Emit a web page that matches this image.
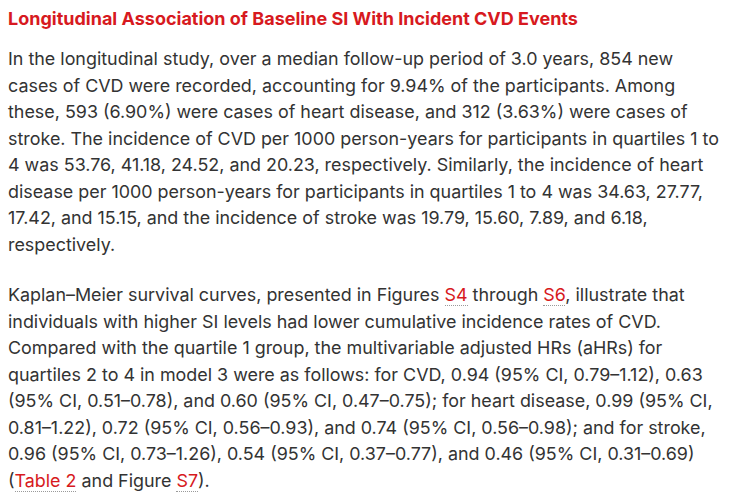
<!DOCTYPE html>
<html>
<head>
<meta charset="utf-8">
<script src="https://cdn.jsdelivr.net/npm/chart.js@4"></script>
<style>
  html, body { margin: 0; padding: 0; background: #ffffff; }
  body { width: 732px; height: 500px; overflow: hidden; font-family: Inter, "Noto Sans", sans-serif; }
  h3 { margin: 0; position: absolute; left: 8px; top: 6px; font-size: 18px; font-weight: 700; color: #d71920; line-height: 26px; white-space: nowrap; }
  .p { position: absolute; left: 8px; font-size: 17.9px; color: #333333; line-height: 26.5px; white-space: nowrap; }
  #p1 { top: 46px; }
  #p2 { top: 282px; }
  a { color: #d71920; text-decoration: none; border-bottom: 1px dotted #9a9a9a; }
</style>
</head>
<body>
<h3>Longitudinal Association of Baseline SI With Incident CVD Events</h3>
<div class="p" id="p1">
In the longitudinal study, over a median follow-up period of 3.0 years, 854 new<br>
cases of CVD were recorded, accounting for 9.94% of the participants. Among<br>
these, 593 (6.90%) were cases of heart disease, and 312 (3.63%) were cases of<br>
stroke. The incidence of CVD per 1000 person-years for participants in quartiles 1 to<br>
4 was 53.76, 41.18, 24.52, and 20.23, respectively. Similarly, the incidence of heart<br>
disease per 1000 person-years for participants in quartiles 1 to 4 was 34.63, 27.77,<br>
17.42, and 15.15, and the incidence of stroke was 19.79, 15.60, 7.89, and 6.18,<br>
respectively.
</div>
<div class="p" id="p2">
Kaplan–Meier survival curves, presented in Figures <a>S4</a> through <a>S6</a>, illustrate that<br>
individuals with higher SI levels had lower cumulative incidence rates of CVD.<br>
Compared with the quartile 1 group, the multivariable adjusted HRs (aHRs) for<br>
quartiles 2 to 4 in model 3 were as follows: for CVD, 0.94 (95% CI, 0.79–1.12), 0.63<br>
(95% CI, 0.51–0.78), and 0.60 (95% CI, 0.47–0.75); for heart disease, 0.99 (95% CI,<br>
0.81–1.22), 0.72 (95% CI, 0.56–0.93), and 0.74 (95% CI, 0.56–0.98); and for stroke,<br>
0.96 (95% CI, 0.73–1.26), 0.54 (95% CI, 0.37–0.77), and 0.46 (95% CI, 0.31–0.69)<br>
(<a>Table 2</a> and Figure <a>S7</a>).
</div>
</body>
</html>
